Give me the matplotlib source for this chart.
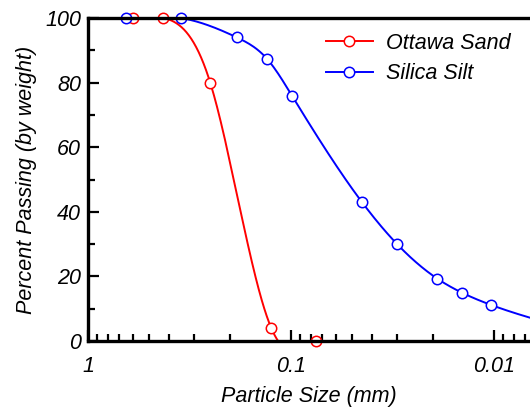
import numpy as np
import matplotlib
matplotlib.use('Agg')
import matplotlib.pyplot as plt

plt.rcParams['font.family'] = ['Liberation Sans', 'DejaVu Sans']
plt.rcParams['font.style'] = 'italic'

# grain size (mm) vs percent passing
sand_size = [0.6, 0.425, 0.25, 0.125, 0.075]
sand_pass = [100, 100, 80, 4, 0]
silt_size = [0.65, 0.35, 0.185, 0.131, 0.099, 0.0447, 0.030, 0.019, 0.0144, 0.01035, 0.005]
silt_pass = [100, 100, 94, 87.3, 76, 43, 30, 19.3, 15, 11.2, 5]


def natural_spline(x, y, n=300):
    # natural cubic spline, x must be increasing
    x = np.asarray(x, float)
    y = np.asarray(y, float)
    k = len(x)
    h = np.diff(x)
    A = np.zeros((k, k))
    b = np.zeros(k)
    A[0, 0] = A[-1, -1] = 1
    for i in range(1, k - 1):
        A[i, i - 1] = h[i - 1]
        A[i, i] = 2 * (h[i - 1] + h[i])
        A[i, i + 1] = h[i]
        b[i] = 6 * ((y[i + 1] - y[i]) / h[i] - (y[i] - y[i - 1]) / h[i - 1])
    M = np.linalg.solve(A, b)
    xs = np.linspace(x[0], x[-1], n)
    j = np.clip(np.searchsorted(x, xs) - 1, 0, k - 2)
    t0 = x[j + 1] - xs
    t1 = xs - x[j]
    hj = h[j]
    ys = (M[j] * t0**3 + M[j + 1] * t1**3) / (6 * hj) \
        + (y[j] / hj - M[j] * hj / 6) * t0 + (y[j + 1] / hj - M[j + 1] * hj / 6) * t1
    return xs, ys


def curve(size, pas):
    lx = np.log10(size)[::-1]
    py = np.asarray(pas)[::-1]
    xs, ys = natural_spline(lx, py)
    return 10**xs, ys


fig = plt.figure(figsize=(5.3, 4.09), dpi=100)
ax = fig.add_axes([0.166, 0.166, 0.834, 0.790])

sx, sy = curve(sand_size, sand_pass)
ax.plot(sx, sy, color='#ff0000', lw=1.4)
ax.plot(sand_size, sand_pass, 'o', color='#ff0000', mfc='white', ms=7.5, mew=1.1, clip_on=False)
gx, gy = curve(silt_size, silt_pass)
ax.plot(gx, gy, color='#0000ff', lw=1.4)
ax.plot(silt_size[:-1], silt_pass[:-1], 'o', color='#0000ff', mfc='white', ms=7.5, mew=1.1, clip_on=False)

h1, = ax.plot([], [], '-o', color='#ff0000', mfc='white', ms=7.5, mew=1.1, lw=1.4)
h2, = ax.plot([], [], '-o', color='#0000ff', mfc='white', ms=7.5, mew=1.1, lw=1.4)
ax.legend([h1, h2], ['Ottawa Sand', 'Silica Silt'], loc='upper right', frameon=False,
          fontsize=15.5, handlelength=2.2, handletextpad=0.6, bbox_to_anchor=(1.0, 1.015),
          labelspacing=0.45)

ax.set_xscale('log')
ax.set_xlim(1, 0.00665)
ax.set_ylim(0, 100)
ax.set_xticks([1, 0.1, 0.01])
ax.set_xticklabels(['1', '0.1', '0.01'])
ax.set_yticks([0, 20, 40, 60, 80, 100])
ax.set_yticks([10, 30, 50, 70, 90], minor=True)
ax.tick_params(which='both', direction='in', labelsize=15.5, width=1.6, pad=5)
ax.tick_params(which='major', length=8)
ax.tick_params(which='minor', length=5)
ax.tick_params(axis='x', pad=11)

for s in ['left', 'bottom', 'top']:
    ax.spines[s].set_linewidth(2.4)
ax.spines['right'].set_visible(False)

ax.set_xlabel('Particle Size (mm)', fontsize=15.5, labelpad=6)
ax.set_ylabel('Percent Passing (by weight)', fontsize=15.5, labelpad=6)

fig.savefig('out.png', dpi=100)
